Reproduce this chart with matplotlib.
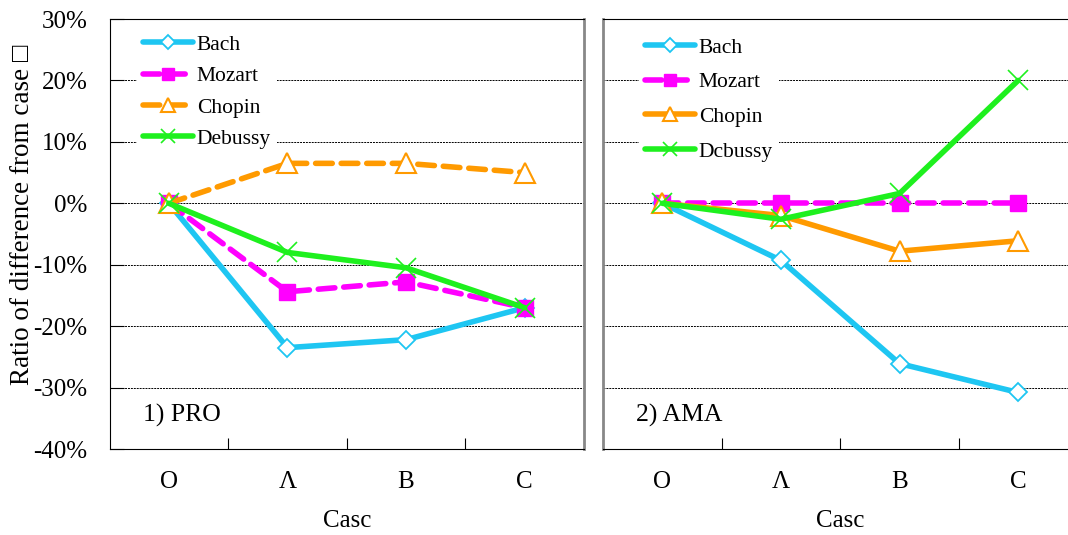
import matplotlib
matplotlib.use("Agg")
import matplotlib.pyplot as plt
from matplotlib.ticker import FixedLocator, NullFormatter, FuncFormatter

plt.rcParams['font.family'] = ['Liberation Serif', 'DejaVu Sans']

# ---- data -------------------------------------------------------------
cases = ["O", "Λ", "B", "C"]
series_names = ["Bach", "Mozart", "Chopin", "Debussy"]

pro_bach = [0.0, -23.5, -22.2, -17.0]
pro_mozart = [0.0, -14.4, -12.8, -17.0]
pro_chopin = [0.0, 6.5, 6.5, 5.0]
pro_debussy = [0.0, -8.0, -10.5, -17.0]

ama_bach = [0.0, -9.3, -26.1, -30.8]
ama_mozart = [0.0, 0.0, 0.0, 0.0]
ama_chopin = [0.0, -2.0, -7.8, -6.1]
ama_debussy = [0.0, -2.6, 1.6, 20.0]

y_ticks = [30, 20, 10, 0, -10, -20, -30, -40]
panel_titles = ["1) PRO", "2) AMA"]
legend_labels = [["Bach", "Mozart", "Chopin", "Debussy"],
                 ["Bach", "Mozart", "Chopin", "Dcbussy"]]

# ---- styles -----------------------------------------------------------
CYAN = "#1EC6F2"
MAGENTA = "#FF00FF"
ORANGE = "#FF9A00"
GREEN = "#1EF01E"
LW = 4.0
DASH = (0, (3.0, 1.6))

styles_pro = [
    dict(color=CYAN, ls="-", marker="D", ms=9, mfc="white", mec=CYAN, mew=1.3),
    dict(color=MAGENTA, ls=DASH, marker="s", ms=12, mfc=MAGENTA, mec=MAGENTA, mew=1),
    dict(color=ORANGE, ls=DASH, marker="^", ms=14, mfc="white", mec=ORANGE, mew=1.5),
    dict(color=GREEN, ls="-", marker="x", ms=14, mfc=GREEN, mec=GREEN, mew=1.2),
]
styles_ama = [dict(s) for s in styles_pro]
styles_ama[2]["ls"] = "-"

fig = plt.figure(figsize=(10.68, 5.35), dpi=100)
W, H = 1068.0, 535.0
ax1 = fig.add_axes([109.5 / W, (H - 449) / H, 474.5 / W, 430 / H])
ax2 = fig.add_axes([603 / W, (H - 449) / H, 474.5 / W, 430 / H])

data = [
    (ax1, [pro_bach, pro_mozart, pro_chopin, pro_debussy], styles_pro),
    (ax2, [ama_bach, ama_mozart, ama_chopin, ama_debussy], styles_ama),
]
legend_anchor = [(0.057, 0.978), (0.075, 0.972)]
legend_spacing = [0.52, 0.68]

x = list(range(len(cases)))
for i, (ax, vals, styles) in enumerate(data):
    for k, (v, st) in enumerate(zip(vals, styles)):
        ax.plot(x, v, lw=LW, dash_capstyle="round", solid_capstyle="round",
                label=legend_labels[i][k], zorder=3 + k, clip_on=False, **st)
    ax.set_xlim(-0.5, 3.5)
    ax.set_ylim(-40, 30)
    ax.set_yticks(y_ticks)
    for yv in y_ticks[1:-1]:
        ax.axhline(yv, color="black", lw=0.7, ls=(0, (2, 1)), zorder=1)

    # category labels at centers, inner ticks at boundaries
    ax.xaxis.set_major_locator(FixedLocator([0.5, 1.5, 2.5]))
    ax.xaxis.set_major_formatter(NullFormatter())
    ax.xaxis.set_minor_locator(FixedLocator(x))
    ax.set_xticklabels(cases, minor=True)
    ax.tick_params(axis="x", which="major", direction="in", length=8, width=0.8)
    ax.tick_params(axis="x", which="minor", length=0, pad=16, labelsize=18)
    ax.set_xlabel("Casc", fontsize=18, labelpad=12)

    ax.text(0.07, 0.052, panel_titles[i], transform=ax.transAxes,
            fontsize=18.5, ha="left", va="bottom")

    leg = ax.legend(loc="upper left", bbox_to_anchor=legend_anchor[i],
                    fontsize=15.5, frameon=True, fancybox=False,
                    handlelength=2.3, handletextpad=0.2, markerscale=0.75,
                    labelspacing=legend_spacing[i], borderpad=0.3,
                    borderaxespad=0.0)
    leg.get_frame().set_edgecolor("none")
    leg.get_frame().set_facecolor("white")
    leg.get_frame().set_alpha(1.0)
    leg.set_zorder(2)

ax1.yaxis.set_major_formatter(FuncFormatter(lambda v, p: f"{int(v)}%"))
ax1.tick_params(axis="y", direction="in", length=10, width=0.8, labelsize=18, pad=16)
ax1.spines["right"].set_color("#888888")
ax1.spines["right"].set_linewidth(2)
ax1.set_ylabel("Ratio of difference from case □", fontsize=19.5)
ax1.yaxis.set_label_coords(-0.157, 0.545)

ax2.tick_params(axis="y", length=0, labelleft=False)
ax2.spines["left"].set_color("#888888")
ax2.spines["left"].set_linewidth(2)

fig.savefig("out.png", dpi=100)
